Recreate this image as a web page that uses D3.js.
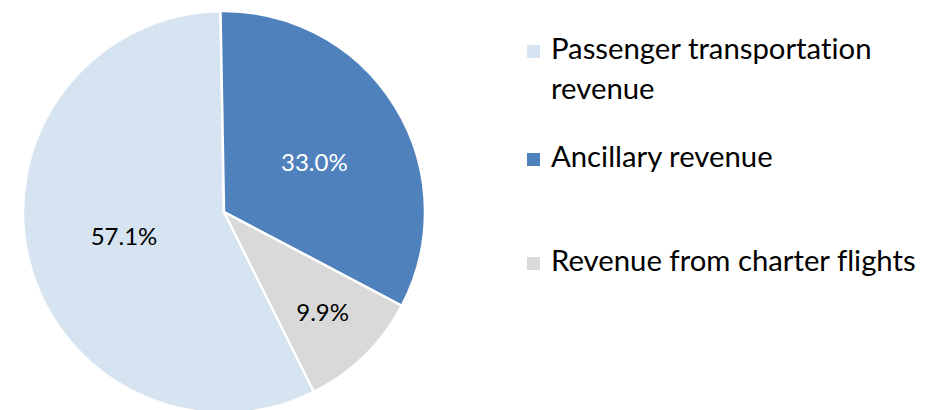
<!DOCTYPE html>
<html>
<head>
<meta charset="utf-8">
<script src="https://cdn.jsdelivr.net/npm/d3@7"></script>
<style>
  body { margin: 0; background: #fff; }
  svg { display: block; font-family: Lato, 'Open Sans', sans-serif; font-variant-ligatures: none; }
</style>
</head>
<body>
<svg id="chart" width="925" height="410"></svg>
<script>
// slice data, legend order
const categories = ['Passenger transportation revenue', 'Ancillary revenue', 'Revenue from charter flights']
const legendLines = [['Passenger transportation', 'revenue'], ['Ancillary revenue'], ['Revenue from charter flights']]
const shares = [57.1, 33.0, 9.9]
const colors = ['#D6E3F1', '#4F81BD', '#D9D9D9']
const labelColors = ['#000', '#fff', '#000']

const width = 925, height = 410
const cx = 224, cy = 212, radius = 201

const svg = d3.select('#chart')

// passenger slice ends just left of 12 o'clock, the others follow clockwise
const offset = -1 * Math.PI / 180
const start = offset - 2 * Math.PI * shares[0] / 100
const pie = d3.pie().sort(null).value(d => d)
	.startAngle(start).endAngle(start + 2 * Math.PI)

const arcs = pie(shares)
const arc = d3.arc().innerRadius(0).outerRadius(radius)

const g = svg.append('g').attr('transform', `translate(${cx},${cy})`)

g.selectAll('path')
	.data(arcs)
	.enter()
	.append('path')
	.attr('d', arc)
	.attr('fill', (d, i) => colors[i])
	.attr('stroke', '#fff')
	.attr('stroke-width', 2.5)
	.attr('stroke-linejoin', 'round')

g.selectAll('text.lbl')
	.data(arcs)
	.enter()
	.append('text')
	.attr('class', 'lbl')
	.attr('transform', d => {
		// small slices get their label pushed outward, like Excel does
		const r = d.value < 15 ? 141 : 103
		const a = (d.startAngle + d.endAngle) / 2 + (d.value > 30 && d.value < 50 ? 0.05 : 0)
		return `translate(${Math.sin(a) * r},${-Math.cos(a) * r})`
	})
	.attr('text-anchor', 'middle')
	.attr('dy', '0.35em')
	.attr('font-size', 24)
	.attr('fill', (d, i) => labelColors[i])
	.text(d => d.value.toFixed(1) + '%')

// legend
const legendY = [59, 167, 271]
const legend = svg.append('g')
	.selectAll('g')
	.data(categories)
	.enter()
	.append('g')
	.attr('transform', (d, i) => `translate(527,${legendY[i]})`)

legend.append('rect')
	.attr('x', 0)
	.attr('y', -14)
	.attr('width', 13)
	.attr('height', 13)
	.attr('fill', (d, i) => colors[i])

legend.append('text')
	.attr('x', 24)
	.attr('font-size', 29.3)
	.attr('fill', '#000')
	.selectAll('tspan')
	.data((d, i) => legendLines[i])
	.enter()
	.append('tspan')
	.attr('x', 24)
	.attr('dy', (d, i) => i == 0 ? 0 : 40)
	.text(d => d)
</script>
</body>
</html>
